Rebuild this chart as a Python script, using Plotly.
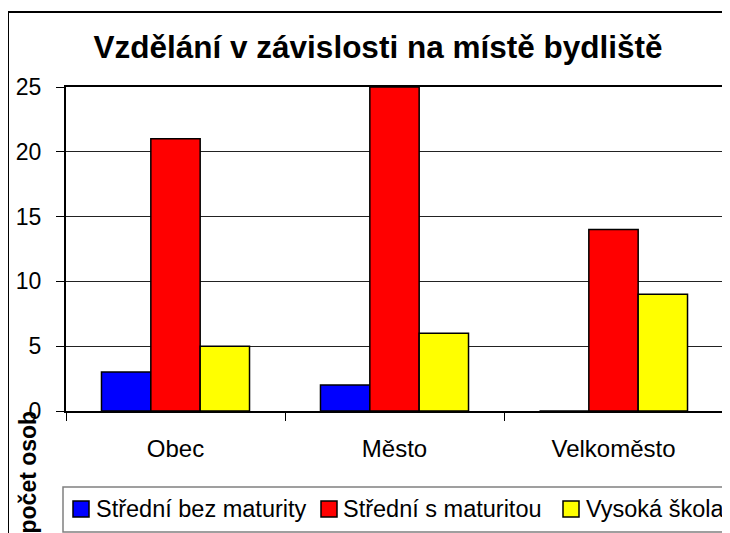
import plotly.graph_objects as go

categories = ["Obec", "Město", "Velkoměsto"]
series_names = ["Střední bez maturity", "Střední s maturitou", "Vysoká škola"]
bez_maturity = [3, 2, 0]
s_maturitou = [21, 25, 14]
vysoka_skola = [5, 6, 9]
colors = ["#0000FF", "#FF0000", "#FFFF00"]
y_ticks = [0, 5, 10, 15, 20, 25]

# page has an 8px body margin, so screen coords = figure coords + 8
OFF = 8
W, H = 730, 533
L, R, T, B = 58, 15, 79, 130
pw, ph = W - L - R, H - T - B

def px_x(x):
    return (x - OFF - L) / pw

def px_y(y):
    return (H - B - (y - OFF)) / ph

FONT = "Arial, 'Liberation Sans', sans-serif"

fig = go.Figure()
for name, vals, col in zip(series_names, [bez_maturity, s_maturitou, vysoka_skola], colors):
    fig.add_trace(go.Bar(name=name, x=categories, y=vals,
                         marker=dict(color=col, line=dict(color="black", width=1.5))))

fig.update_layout(
    width=W, height=H,
    margin=dict(l=L, r=R, t=T, b=B, autoexpand=False),
    plot_bgcolor="white", paper_bgcolor="white",
    barmode="group", bargap=0.324, bargroupgap=0,
    showlegend=False,
    font=dict(family=FONT, color="black", size=23),
    title=dict(text="<b>Vzdělání v závislosti na místě bydliště</b>",
               x=px_x(378), xref="paper", xanchor="center",
               y=1 - (47 - OFF) / H, yref="container", yanchor="middle",
               font=dict(size=31.5, family=FONT, color="black")),
)

fig.update_yaxes(range=[0, 25], tickvals=y_ticks, showgrid=True, gridcolor="#222222", gridwidth=1,
                 showline=True, mirror=True, linecolor="black", linewidth=2, automargin=False,
                 ticks="outside", ticklen=8, tickcolor="black", ticklabelstandoff=10,
                 tickfont=dict(size=23), zeroline=False)
fig.update_xaxes(showline=True, mirror=True, linecolor="black", linewidth=2, automargin=False,
                 ticks="outside", tickson="boundaries", ticklen=8, tickcolor="black",
                 ticklabelstandoff=15, tickfont=dict(size=24))

# y axis title placed low, like the original
fig.add_annotation(text="<b>počet osob</b>", textangle=-90, showarrow=False,
                   xref="paper", yref="paper", x=px_x(27), y=px_y(409),
                   xanchor="center", yanchor="top", font=dict(size=23, family=FONT))

# outer chart frame
fig.add_shape(type="rect", xref="paper", yref="paper",
              x0=px_x(8), x1=px_x(726), y0=px_y(12), y1=px_y(570),
              line=dict(color="black", width=2), fillcolor="rgba(0,0,0,0)", layer="above")

# legend box
fig.add_shape(type="rect", xref="paper", yref="paper",
              x0=px_x(63), x1=px_x(760), y0=px_y(487), y1=px_y(532),
              line=dict(color="#808080", width=1.5), fillcolor="white")
sw_x = [73, 321, 563]
txt_x = [97, 344, 587]
for name, col, sx, tx in zip(series_names, colors, sw_x, txt_x):
    fig.add_shape(type="rect", xref="paper", yref="paper",
                  x0=px_x(sx), x1=px_x(sx + 16), y0=px_y(501), y1=px_y(517),
                  line=dict(color="black", width=1.5), fillcolor=col)
    fig.add_annotation(text=name, showarrow=False, xref="paper", yref="paper",
                       x=px_x(tx - 3), y=px_y(509), xanchor="left", yanchor="middle",
                       font=dict(size=23.5, family=FONT))

fig.write_html("out.html")
